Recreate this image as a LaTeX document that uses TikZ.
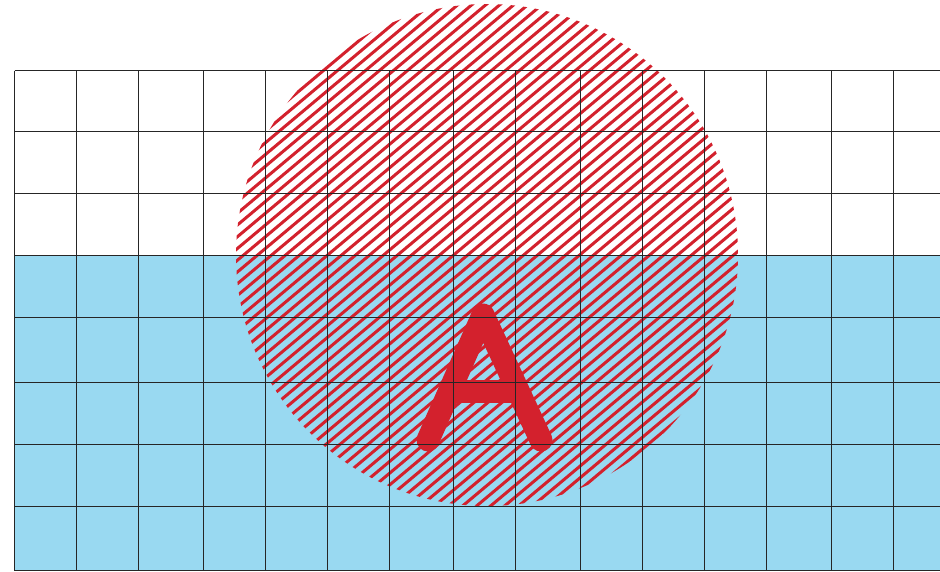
\documentclass[tikz,border=0pt]{standalone}
\usepackage{tikz}
\usepackage{xcolor}

\definecolor{skyfill}{RGB}{153,217,241}
\definecolor{signred}{RGB}{211,33,45}

\begin{document}
\begin{tikzpicture}[x=1pt,y=-1pt,
  gridline/.style={black!85,line width=1.2pt},
  hatchline/.style={signred,line width=3pt},
  letterline/.style={signred,line width=23pt,line cap=round,line join=round}]
\useasboundingbox (0,0) rectangle (940,571);
\fill[skyfill] (14.5,255.5) rectangle (940,570.5);
\begin{scope}
\clip (487,255) circle (251);
\foreach \i in {-320,-306,...,700}
  \draw[hatchline] (\i,540) -- ++(-40:900);
\end{scope}
\draw[letterline] (428,440) -- (483,315) -- (541,440);
\draw[letterline] (450,391) -- (518,391);
\foreach \gx in {14.5,76.5,138.5,203.5,265.5,327.5,389.5,453.5,515.5,580.5,642.5,704.5,766.5,831.5,893.5}
  \draw[gridline] (\gx,70.5) -- (\gx,570.5);
\foreach \gy in {70.5,131.5,193.5,255.5,317.5,382.5,444.5,506.5,570.5}
  \draw[gridline] (14.5,\gy) -- (940,\gy);
\end{tikzpicture}
\end{document}
